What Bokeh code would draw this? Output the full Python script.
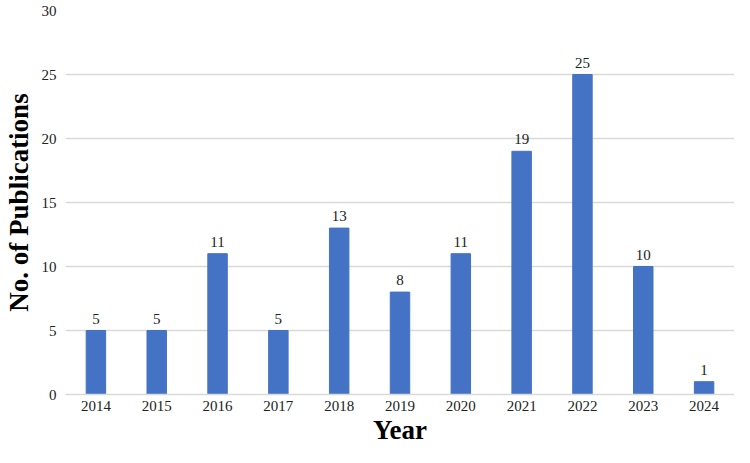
from bokeh.plotting import figure
from bokeh.models import ColumnDataSource, Range1d, FactorRange, SingleIntervalTicker, LabelSet
from bokeh.embed import file_html
from bokeh.resources import INLINE

years = ["2014", "2015", "2016", "2017", "2018", "2019", "2020", "2021", "2022", "2023", "2024"]
counts = [5, 5, 11, 5, 13, 8, 11, 19, 25, 10, 1]
labels = [str(c) for c in counts]

src = ColumnDataSource(dict(x=years, y=counts, lab=labels))

FONT = "Liberation Serif"
p = figure(x_range=FactorRange(*years), y_range=Range1d(0, 30),
           width=734, height=447, output_backend="svg", toolbar_location=None,
           min_border_top=10, min_border_right=0, min_border_left=2, min_border_bottom=0)
p.outline_line_color = None
p.vbar(x="x", top="y", width=0.32, source=src, color="#4472C4")
p.add_layout(LabelSet(x="x", y="y", text="lab", source=src, text_align="center",
                      text_baseline="bottom", y_offset=7, text_font=FONT,
                      text_font_size="15px", text_color="#222222"))

p.yaxis.ticker = SingleIntervalTicker(interval=5)
p.ygrid.grid_line_color = "#d9d9d9"
p.ygrid.grid_line_width = 1.5
p.xgrid.grid_line_color = None
for ax in (p.xaxis, p.yaxis):
    ax.major_tick_line_color = None
    ax.minor_tick_line_color = None
    ax.major_tick_in = 0
    ax.major_tick_out = 0
    ax.minor_tick_in = 0
    ax.minor_tick_out = 0
    ax.major_label_text_font = FONT
    ax.major_label_text_font_size = "15px"
    ax.major_label_text_color = "#222222"
    ax.axis_label_text_font = FONT
    ax.axis_label_text_font_size = "27px"
    ax.axis_label_text_font_style = "bold"
    ax.axis_label_text_color = "black"
p.yaxis.axis_line_color = None
p.xaxis.axis_line_color = "#d9d9d9"
p.xaxis.axis_line_width = 1.5
p.yaxis.axis_label = "No. of Publications"
p.xaxis.axis_label = "Year"
p.yaxis.major_label_standoff = 9
p.xaxis.major_label_standoff = 6
p.yaxis.axis_label_standoff = 5
p.xaxis.axis_label_standoff = 1

open("out.html", "w").write(file_html(p, INLINE))
